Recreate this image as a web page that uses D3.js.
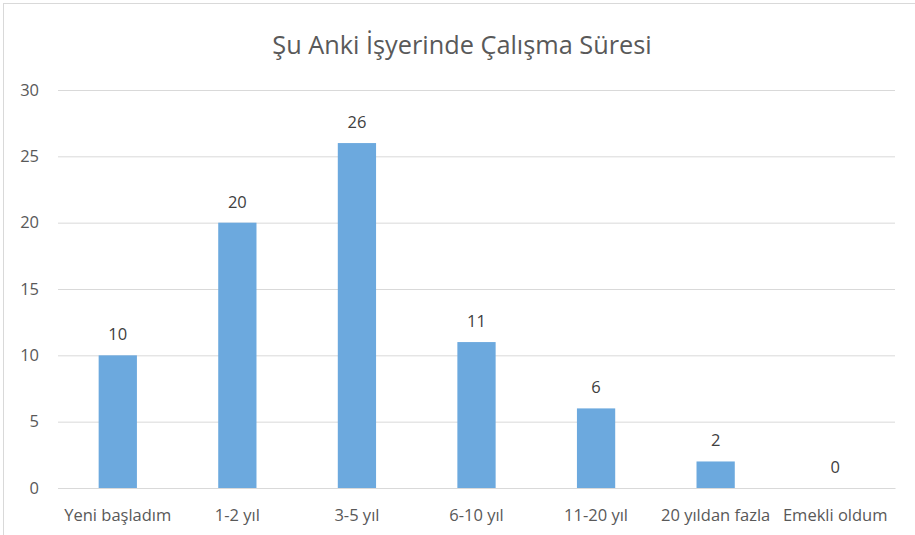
<!DOCTYPE html>
<html><head><meta charset="utf-8">
<script src="https://cdn.jsdelivr.net/npm/d3@7"></script>
<style>html,body{margin:0;padding:0;background:#fff;}svg{display:block;}</style>
</head><body>
<svg id="c" width="915" height="535"></svg>
<script>
const categories = ["Yeni başladım","1-2 yıl","3-5 yıl","6-10 yıl","11-20 yıl","20 yıldan fazla","Emekli oldum"];
const values = [10,20,26,11,6,2,0];
const yTicks = [0,5,10,15,20,25,30];
const title = "Şu Anki İşyerinde Çalışma Süresi";

const font = "'Open Sans', sans-serif";
const svg = d3.select("#c");
svg.append("rect").attr("x",3.5).attr("y",3.5).attr("width",920).attr("height",540)
  .attr("fill","#fff").attr("stroke","#d9d9d9").attr("stroke-width",1);

const m = {left:58, right:895, top:90, bottom:488};
const x = d3.scaleBand().domain(categories).range([m.left,m.right]).paddingInner(0.68).paddingOuter(0.34);
const y = d3.scaleLinear().domain([0,30]).range([m.bottom,m.top]);

svg.append("text").attr("x",462).attr("y",54).attr("text-anchor","middle")
  .attr("font-family",font).attr("font-size",25.3).attr("fill","#595959").text(title);

const ya = d3.axisLeft(y).tickValues(yTicks).tickSize(-(m.right-m.left)).tickPadding(19);
const gy = svg.append("g").attr("transform",`translate(${m.left},0)`).call(ya);
gy.select(".domain").remove();
gy.selectAll(".tick line").attr("stroke","#d9d9d9").attr("stroke-width",1);
gy.selectAll(".tick text").attr("font-family",font).attr("font-size",16.5).attr("fill","#595959");

svg.append("g").selectAll("rect").data(values).join("rect")
  .attr("x",(d,i)=>x(categories[i])).attr("width",x.bandwidth())
  .attr("y",d=>y(d)).attr("height",d=>y(0)-y(d)).attr("fill","#6CA9DE");

svg.append("g").selectAll("text").data(values).join("text")
  .attr("x",(d,i)=>x(categories[i])+x.bandwidth()/2).attr("y",d=>y(d)-15)
  .attr("text-anchor","middle").attr("font-family",font).attr("font-size",16.5).attr("fill","#404040")
  .text(d=>d);

const xa = d3.axisBottom(x).tickSize(0).tickPadding(21);
const gx = svg.append("g").attr("transform",`translate(0,${m.bottom})`).call(xa);
gx.select(".domain").attr("stroke","#d9d9d9");
gx.selectAll(".tick text").attr("font-family",font).attr("font-size",16.5).attr("fill","#595959");
</script>
</body></html>
